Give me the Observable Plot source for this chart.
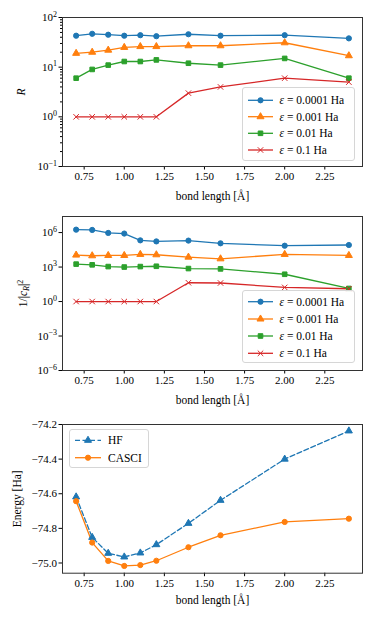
<!DOCTYPE html>
<html><head><meta charset="utf-8">
<script src="https://cdn.jsdelivr.net/npm/d3@7"></script>
<script src="https://cdn.jsdelivr.net/npm/@observablehq/plot@0.6"></script>
<style>
body{margin:0;background:#fff;}
#wrap{position:relative;width:374px;height:623px;font-family:"Liberation Serif",serif;overflow:hidden;}
.panel{position:absolute;left:0;}
.legend{position:absolute;border:1px solid #d6d6d6;border-radius:3px;background:rgba(255,255,255,0.8);box-sizing:border-box;}
.legend svg{position:absolute;left:0;top:0;overflow:visible;}
</style></head><body><div id="wrap"></div>
<script>
// ---- data ----
const bondLength = [0.7, 0.8, 0.9, 1.0, 1.1, 1.2, 1.4, 1.6, 2.0, 2.4];
const epsLabels = ["0.0001", "0.001", "0.01", "0.1"];
const R_eps1e4 = [43, 47, 45, 43, 44, 42, 46, 43, 44, 38];
const R_eps1e3 = [19, 20, 22, 25, 26, 26, 27, 27, 31, 17];
const R_eps1e2 = [6, 9, 11, 13, 13, 14, 12, 11, 15, 6];
const R_eps1e1 = [1, 1, 1, 1, 1, 1, 3, 4, 6, 5];
const C_eps1e4 = [1.8e6, 1.7e6, 9.3e5, 8.2e5, 2.1e5, 1.7e5, 2.0e5, 1.16e5, 7.2e4, 8.3e4];
const C_eps1e3 = [1.1e4, 9.6e3, 1.02e4, 1.02e4, 1.26e4, 1.17e4, 7.3e3, 5.2e3, 1.26e4, 1.02e4];
const C_eps1e2 = [1.8e3, 1.56e3, 1.1e3, 1.0e3, 1.1e3, 1.17e3, 7.4e2, 6.9e2, 2.36e2, 13.7];
const C_eps1e1 = [1, 1, 1, 1, 1, 1, 43, 41, 17, 13];
const E_HF = [-74.618, -74.852, -74.944, -74.965, -74.942, -74.894, -74.771, -74.638, -74.400, -74.237];
const E_CASCI = [-74.643, -74.882, -74.988, -75.017, -75.012, -74.987, -74.909, -74.840, -74.763, -74.744];
const methodLabels = ["HF", "CASCI"];
const xTicks = [0.75, 1.00, 1.25, 1.50, 1.75, 2.00, 2.25];
const rTicks = [0.1, 1, 10, 100];
const rMinorTicks = [0.2,0.3,0.4,0.5,0.6,0.7,0.8,0.9,2,3,4,5,6,7,8,9,20,30,40,50,60,70,80,90];
const cTicks = [1e-6, 1e-3, 1, 1e3, 1e6];
const eTicks = [-75.0, -74.8, -74.6, -74.4, -74.2];
const colors = ["#1f77b4", "#ff7f0e", "#2ca02c", "#d62728"];
const symbols = ["circle", "triangle", "square", "times"];

// ---- helpers ----
const pow10 = d => "10^" + String(Math.round(Math.log10(d))).replace("-", "−");
const xFmt = d3.format(".2f");
const eFmt = d3.format(".1f");
const FONT = "Liberation Serif";
const TICK_FS = 11;
const wrap = document.getElementById("wrap");
const NS = "http://www.w3.org/2000/svg";

function rowsFrom(seriesArrays, names) {
  const rows = [];
  seriesArrays.forEach((arr, i) => arr.forEach((v, j) => rows.push({x: bondLength[j], y: v, s: names[i]})));
  return rows;
}

function place(svg, top) {
  const d = document.createElement("div");
  d.className = "panel"; d.style.top = top + "px";
  d.appendChild(svg); wrap.appendChild(d);
}

function styleLabels(svg, yItalic) {
  svg.querySelectorAll('[aria-label="x-axis label"] text, [aria-label="y-axis label"] text').forEach(t => t.setAttribute("font-size", "11.5"));
  if (yItalic) svg.querySelectorAll('[aria-label="y-axis label"] text').forEach(t => t.setAttribute("font-style", "italic"));
}

function superscriptTicks(svg) {
  svg.querySelectorAll('[aria-label="y-axis tick label"] text').forEach(t => {
    const s = t.textContent;
    if (!s.includes("^")) return;
    const [base, exp] = s.split("^");
    while (t.firstChild) t.removeChild(t.firstChild);
    const a = document.createElementNS(NS, "tspan"); a.textContent = base;
    const b = document.createElementNS(NS, "tspan"); b.textContent = exp;
    b.setAttribute("font-size", "8"); b.setAttribute("dy", "-4.5");
    t.appendChild(a); t.appendChild(b);
  });
}

function legend(left, top, w, h, entries, rowYs, swX0, swX1, textX) {
  const d = document.createElement("div");
  d.className = "legend";
  Object.assign(d.style, {left: left + "px", top: top + "px", width: w + "px", height: h + "px"});
  const s = document.createElementNS(NS, "svg");
  s.setAttribute("width", w); s.setAttribute("height", h);
  entries.forEach((e, i) => {
    const y = rowYs[i];
    const ln = document.createElementNS(NS, "line");
    ln.setAttribute("x1", swX0); ln.setAttribute("x2", swX1); ln.setAttribute("y1", y); ln.setAttribute("y2", y);
    ln.setAttribute("stroke", e.color); ln.setAttribute("stroke-width", 1.3);
    if (e.dash) ln.setAttribute("stroke-dasharray", e.dash);
    s.appendChild(ln);
    const sym = {circle: d3.symbolCircle, triangle: d3.symbolTriangle, square: d3.symbolSquare, times: d3.symbolTimes}[e.symbol];
    const p = document.createElementNS(NS, "path");
    p.setAttribute("d", d3.symbol(sym, Math.PI * 2.6 * 2.6)());
    p.setAttribute("transform", `translate(${(swX0 + swX1) / 2},${y})`);
    p.setAttribute("fill", e.color); p.setAttribute("stroke", e.color); p.setAttribute("stroke-width", 1);
    s.appendChild(p);
    const t = document.createElementNS(NS, "text");
    t.setAttribute("x", textX); t.setAttribute("y", y); t.setAttribute("dy", "0.35em");
    t.setAttribute("font-family", FONT); t.setAttribute("font-size", "11.5");
    if (e.eps) {
      const a = document.createElementNS(NS, "tspan"); a.setAttribute("font-style", "italic"); a.textContent = "ε";
      const b = document.createElementNS(NS, "tspan"); b.textContent = " = " + e.eps + " Ha";
      t.appendChild(a); t.appendChild(b);
    } else t.textContent = e.label;
    s.appendChild(t);
  });
  d.appendChild(s);
  wrap.appendChild(d);
}

const common = {
  width: 374, marginLeft: 62, marginRight: 12,
  style: {fontFamily: FONT, fontSize: TICK_FS + "px", color: "#000", background: "transparent", overflow: "visible"},
  x: {domain: [0.615, 2.485]},
  color: {domain: epsLabels, range: colors},
  symbol: {domain: epsLabels, range: symbols}
};

function epsMarks(rows) {
  return [
    Plot.line(rows, {x: "x", y: "y", z: "s", stroke: "s", strokeWidth: 1.3}),
    Plot.dot(rows, {x: "x", y: "y", symbol: "s", fill: "s", stroke: "s", strokeWidth: 1, r: 2.6})
  ];
}
function xAxis(off) {
  return Plot.axisX({ticks: xTicks, tickFormat: xFmt, tickSize: 3.5, tickPadding: 2.5, fontSize: TICK_FS,
    label: "bond length [Å]", labelAnchor: "center", labelOffset: off, labelArrow: "none"});
}
function yAxis(ticks, fmt, label, off) {
  return Plot.axisY({ticks, tickFormat: fmt, tickSize: 3.5, tickPadding: 2, fontSize: TICK_FS,
    label, labelAnchor: "center", labelOffset: off, labelArrow: "none"});
}

// ---- panel 1: R ----
const rowsR = rowsFrom([R_eps1e4, R_eps1e3, R_eps1e2, R_eps1e1], epsLabels);
const p1 = Plot.plot({
  ...common, height: 205, marginTop: 17, marginBottom: 39,
  y: {type: "log", domain: [0.1, 100]},
  marks: [
    Plot.axisY({ticks: rMinorTicks, tickSize: 2, tickFormat: () => "", label: null}),
    yAxis(rTicks, pow10, "R", 46),
    xAxis(33),
    ...epsMarks(rowsR),
    Plot.frame({stroke: "#333", strokeWidth: 1})
  ]
});
styleLabels(p1, true);
superscriptTicks(p1);
place(p1, 0);

// ---- panel 2: 1/|c_R|^2 ----
const rowsC = rowsFrom([C_eps1e4, C_eps1e3, C_eps1e2, C_eps1e1], epsLabels);
const p2 = Plot.plot({
  ...common, height: 210, marginTop: 16, marginBottom: 40,
  y: {type: "log", domain: [1e-6, 2.5e7]},
  marks: [
    yAxis(cTicks, pow10, "1/|c_R|^2", 44),
    xAxis(33),
    ...epsMarks(rowsC),
    Plot.frame({stroke: "#333", strokeWidth: 1})
  ]
});
styleLabels(p2, false);
superscriptTicks(p2);
p2.querySelectorAll('[aria-label="y-axis label"] text').forEach(t => {
  while (t.firstChild) t.removeChild(t.firstChild);
  const parts = [["1/|", {}], ["c", {"font-style": "italic"}], ["R", {"font-style": "italic", "font-size": "8", dy: "2.5"}], ["|", {dy: "-2.5"}], ["2", {"font-size": "8", dy: "-4"}]];
  parts.forEach(([txt, attrs]) => {
    const ts = document.createElementNS(NS, "tspan");
    for (const k in attrs) ts.setAttribute(k, attrs[k]);
    ts.textContent = txt; t.appendChild(ts);
  });
});
place(p2, 200);

// ---- panel 3: energy ----
const rowsE = rowsFrom([E_HF, E_CASCI], methodLabels);
const p3 = Plot.plot({
  ...common, height: 213, marginTop: 14, marginBottom: 50.3,
  y: {domain: [-75.059, -74.2]},
  color: {domain: methodLabels, range: [colors[0], colors[1]]},
  symbol: {domain: methodLabels, range: ["triangle", "circle"]},
  marks: [
    yAxis(eTicks, eFmt, "Energy [Ha]", 50),
    xAxis(31),
    Plot.line(rowsE.filter(d => d.s === "HF"), {x: "x", y: "y", stroke: "s", strokeWidth: 1.3, strokeDasharray: "5,2.5"}),
    Plot.line(rowsE.filter(d => d.s === "CASCI"), {x: "x", y: "y", stroke: "s", strokeWidth: 1.3}),
    Plot.dot(rowsE, {x: "x", y: "y", symbol: "s", fill: "s", stroke: "s", strokeWidth: 1, r: 2.6}),
    Plot.frame({stroke: "#333", strokeWidth: 1})
  ]
});
styleLabels(p3, false);
place(p3, 410);

// ---- legends (HTML overlays) ----
const epsEntries = epsLabels.map((e, i) => ({eps: e, color: colors[i], symbol: symbols[i]}));
legend(242, 87, 113, 74, epsEntries, [12.3, 28.7, 45.3, 62], 5, 30, 36.5);
legend(242, 290, 113, 73, epsEntries, [10.7, 28, 45, 62.3], 5, 30, 36.5);
legend(69, 429, 80, 39, [
  {label: "HF", color: colors[0], symbol: "triangle", dash: "5,2.5"},
  {label: "CASCI", color: colors[1], symbol: "circle"}
], [10.3, 27.7], 5, 31, 38);
</script></body></html>
